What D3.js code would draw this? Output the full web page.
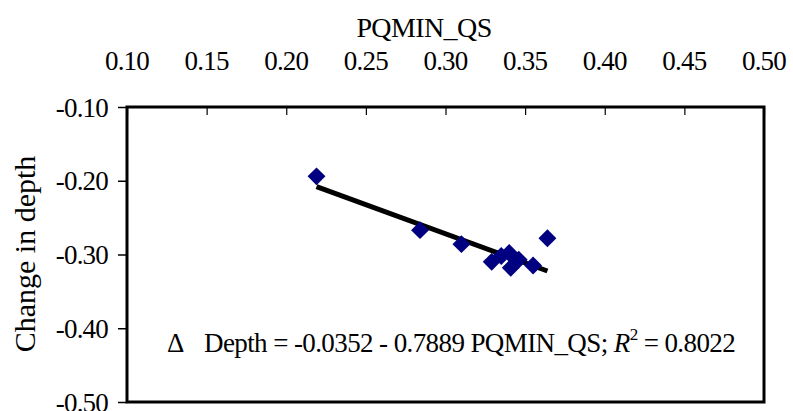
<!DOCTYPE html>
<html>
<head>
<meta charset="utf-8">
<script src="https://cdn.jsdelivr.net/npm/d3@7"></script>
<style>
  body { margin: 0; background: #fff; }
  svg text { font-family: "Liberation Serif", "Times New Roman", serif; fill: #000; }
</style>
</head>
<body>
<div id="chart"></div>
<script>
// values
var pqminQs = [0.219, 0.284, 0.310, 0.329, 0.335, 0.340, 0.341, 0.346, 0.355, 0.364];
var depthChange = [-0.194, -0.267, -0.286, -0.310, -0.302, -0.298, -0.318, -0.307, -0.315, -0.278];
var xTicks = [0.10, 0.15, 0.20, 0.25, 0.30, 0.35, 0.40, 0.45, 0.50];
var yTicks = [-0.10, -0.20, -0.30, -0.40, -0.50];
var fitIntercept = -0.0352, fitSlope = -0.7889;

var W = 793, H = 411;
var plotL = 127, plotR = 764, plotT = 107, plotB = 402;

// plain hyphen for negatives, like the original
var fmt = function(d){ return d.toFixed(2); };

var svg = d3.select('#chart').append('svg')
	.attr('width', W).attr('height', H);

var x = d3.scaleLinear().domain([0.10, 0.50]).range([plotL, plotR]);
var y = d3.scaleLinear().domain([-0.10, -0.50]).range([plotT, plotB]);

// frame
svg.append('rect')
	.attr('x', plotL).attr('y', plotT)
	.attr('width', plotR - plotL).attr('height', plotB - plotT)
	.attr('fill', 'none').attr('stroke', '#000').attr('stroke-width', 3);

// top x axis, ticks pointing into the plot
var xAxis = svg.append('g')
	.attr('transform', 'translate(0,' + plotT + ')')
	.call(d3.axisBottom(x).tickValues(xTicks).tickSize(8).tickFormat(''));
xAxis.select('.domain').remove();
xAxis.selectAll('.tick line').attr('stroke', '#000').attr('stroke-width', 1.2);

svg.append('g').selectAll('text')
	.data(xTicks)
	.enter().append('text')
	.attr('x', function(d){ return x(d); })
	.attr('y', 70)
	.attr('text-anchor', 'middle')
	.style('font-size', '27px')
	.style('letter-spacing', '-0.8px')
	.text(fmt);

// left y axis
var yAxis = svg.append('g')
	.attr('transform', 'translate(' + plotL + ',0)')
	.call(d3.axisLeft(y).tickValues(yTicks).tickSize(9).tickFormat(fmt));
yAxis.select('.domain').remove();
yAxis.selectAll('.tick line').attr('stroke', '#000').attr('stroke-width', 1.5);
yAxis.selectAll('.tick text')
	.attr('x', -19)
	.attr('dy', '0.34em')
	.style('font-size', '27px')
	.style('letter-spacing', '-0.8px')
	.style('font-family', '"Liberation Serif", serif')
	.attr('fill', '#000');

// axis titles
svg.append('text')
	.attr('x', 424).attr('y', 37)
	.attr('text-anchor', 'middle')
	.style('font-size', '28px')
	.style('letter-spacing', '-0.6px')
	.text('PQMIN_QS');

svg.append('text')
	.attr('transform', 'translate(35,254) rotate(-90)')
	.attr('text-anchor', 'middle')
	.style('font-size', '30px')
	.text('Change in depth');

// regression line
var xs = d3.extent(pqminQs);
var line = d3.line()
	.x(function(d){ return x(d); })
	.y(function(d){ return y(fitIntercept + fitSlope * d); });
svg.append('path')
	.datum(xs)
	.attr('d', line)
	.attr('fill', 'none')
	.attr('stroke', '#000')
	.attr('stroke-width', 5);

// points as diamonds
var diamond = d3.symbol().type(d3.symbolSquare).size(160);
svg.append('g').selectAll('path')
	.data(pqminQs)
	.enter().append('path')
	.attr('d', diamond)
	.attr('transform', function(d, i){
		return 'translate(' + x(d) + ',' + y(depthChange[i]) + ') rotate(45)';
	})
	.attr('fill', '#000080');

// equation
var eq = svg.append('text')
	.attr('x', 167).attr('y', 352)
	.style('font-size', '27px')
	.style('letter-spacing', '-0.6px');
eq.append('tspan').text('\u0394');
eq.append('tspan').attr('x', 204).text('Depth = -0.0352 - 0.7889 PQMIN_QS; ');
eq.append('tspan').style('font-style', 'italic').text('R');
eq.append('tspan').attr('dy', -12).style('font-size', '17px').text('2');
eq.append('tspan').attr('dy', 12).text(' = 0.8022');
</script>
</body>
</html>
